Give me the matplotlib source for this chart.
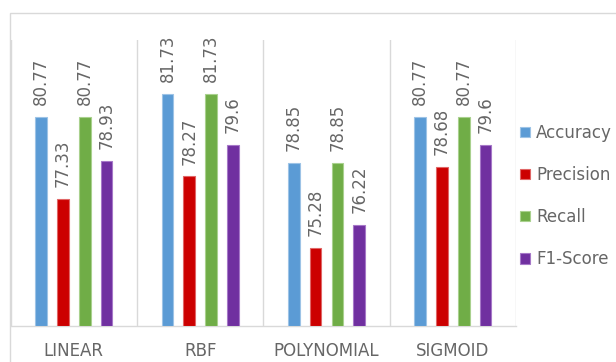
import matplotlib
matplotlib.use("Agg")
import matplotlib.pyplot as plt
from matplotlib.patches import Rectangle
import numpy as np

categories = ["LINEAR", "RBF", "POLYNOMIAL", "SIGMOID"]
series_names = ["Accuracy", "Precision", "Recall", "F1-Score"]
accuracy = [80.77, 81.73, 78.85, 80.77]
precision = [77.33, 78.27, 75.28, 78.68]
recall = [80.77, 81.73, 78.85, 80.77]
f1_score = [78.93, 79.6, 76.22, 79.6]
label_text = [
    ["80.77", "81.73", "78.85", "80.77"],
    ["77.33", "78.27", "75.28", "78.68"],
    ["80.77", "81.73", "78.85", "80.77"],
    ["78.93", "79.6", "76.22", "79.6"],
]
series = [accuracy, precision, recall, f1_score]
colors = ["#5B9BD5", "#CC0000", "#70AD47", "#7030A0"]
edge_colors = ["#9DC3E6", "#E06666", "#A9D18E", "#A678C8"]

W, H = 616, 362
fig = plt.figure(figsize=(W / 100, H / 100), dpi=100)
left, right, top, bottom = 10.7, 516, 40, 325.7
ax = fig.add_axes([left / W, 1 - bottom / H, (right - left) / W, (bottom - top) / H])

x = np.arange(len(categories))
pitch = 0.1726
width = 0.092
offsets = [-1.5, -0.5, 0.5, 1.5]
grid_c = "#D9D9D9"
text_c = "#666666"

for i, (vals, c, ec, name) in enumerate(zip(series, colors, edge_colors, series_names)):
    pos = x + offsets[i] * pitch
    ax.bar(pos, [v - 72 for v in vals], width, bottom=72, color=c, edgecolor=ec,
           linewidth=0.8, label=name, zorder=3)
    for px, v, t in zip(pos, vals, label_text[i]):
        ax.annotate(t, (px, v), xytext=(0, 8.5), textcoords="offset points",
                    rotation=90, ha="center", va="bottom", fontsize=12,
                    color=text_c, zorder=4)

ax.set_ylim(72, 84)
ax.set_xlim(-0.5, len(categories) - 0.5)
for b in [-0.5, 0.5, 1.5, 2.5, 3.5]:
    ax.axvline(b, color=grid_c, lw=1, zorder=1)
for s in ["top", "right", "left"]:
    ax.spines[s].set_visible(False)
ax.spines["bottom"].set_color(grid_c)
ax.spines["bottom"].set_linewidth(1)
ax.set_yticks([])
ax.set_xticks(x)
ax.set_xticklabels(categories, fontsize=12, color=text_c)
ax.tick_params(axis="x", length=0, pad=12)

leg = ax.legend(loc="center left", bbox_to_anchor=(520 / W, 1 - 196 / H),
                bbox_transform=fig.transFigure, frameon=False, fontsize=12,
                handlelength=0.6, handleheight=0.6, handletextpad=0.36,
                labelspacing=1.45, borderpad=0, borderaxespad=0)
for t in leg.get_texts():
    t.set_color(text_c)

fig.add_artist(Rectangle((10 / W, -0.1), 1.0, (1 - 13 / H) + 0.1,
                         transform=fig.transFigure, fill=False,
                         edgecolor=grid_c, lw=1))

fig.savefig("out.png", dpi=100)
